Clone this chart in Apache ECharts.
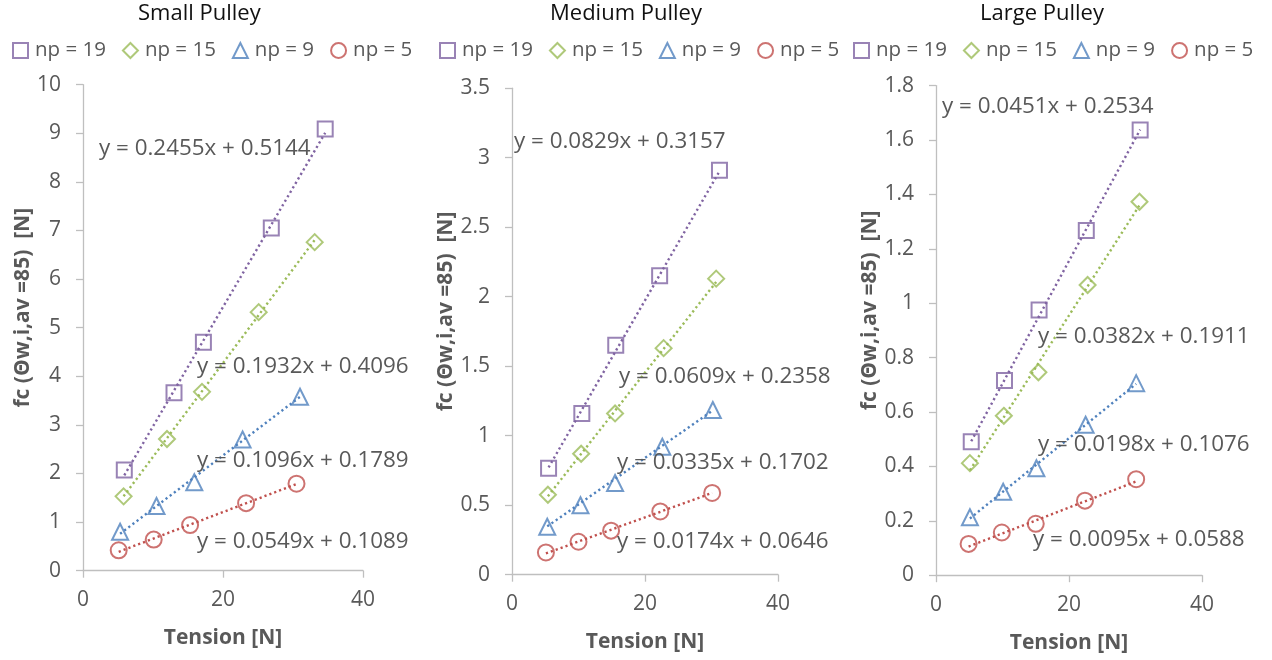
<!DOCTYPE html>
<html>
<head>
<meta charset="utf-8">
<script src="https://cdn.jsdelivr.net/npm/echarts@6/dist/echarts.min.js"></script>
<style>
html,body{margin:0;padding:0;background:#fff;}
#chart{width:1272px;height:660px;}
</style>
</head>
<body>
<div id="chart"></div>
<script>
// ---------- DATA ----------
const seriesNames = ['np = 19', 'np = 15', 'np = 9', 'np = 5'];
const panelTitles = ['Small Pulley', 'Medium Pulley', 'Large Pulley'];
const xTickLabels = ['0', '20', '40'];

// Small pulley: tension [N] and fc [N]
const smallNp19X = [5.9, 13.0, 17.2, 26.9, 34.6];
const smallNp19Y = [2.07, 3.66, 4.70, 7.05, 9.09];
const smallNp15X = [5.8, 12.0, 17.0, 25.1, 33.1];
const smallNp15Y = [1.53, 2.71, 3.68, 5.32, 6.76];
const smallNp9X  = [5.3, 10.5, 15.9, 22.8, 31.0];
const smallNp9Y  = [0.80, 1.33, 1.82, 2.70, 3.58];
const smallNp5X  = [5.1, 10.1, 15.3, 23.3, 30.5];
const smallNp5Y  = [0.42, 0.64, 0.94, 1.39, 1.79];

// Medium pulley
const mediumNp19X = [5.5, 10.5, 15.6, 22.2, 31.2];
const mediumNp19Y = [0.765, 1.16, 1.65, 2.15, 2.91];
const mediumNp15X = [5.4, 10.4, 15.5, 22.8, 30.7];
const mediumNp15Y = [0.575, 0.87, 1.16, 1.63, 2.13];
const mediumNp9X  = [5.3, 10.3, 15.5, 22.6, 30.2];
const mediumNp9Y  = [0.345, 0.50, 0.66, 0.92, 1.185];
const mediumNp5X  = [5.1, 10.0, 14.9, 22.3, 30.1];
const mediumNp5Y  = [0.16, 0.237, 0.317, 0.455, 0.588];

// Large pulley
const largeNp19X = [5.3, 10.3, 15.5, 22.6, 30.7];
const largeNp19Y = [0.491, 0.716, 0.975, 1.267, 1.637];
const largeNp15X = [5.1, 10.2, 15.4, 22.8, 30.6];
const largeNp15Y = [0.412, 0.586, 0.746, 1.067, 1.373];
const largeNp9X  = [5.1, 10.1, 15.1, 22.5, 30.1];
const largeNp9Y  = [0.213, 0.307, 0.393, 0.553, 0.706];
const largeNp5X  = [4.9, 9.9, 15.0, 22.4, 30.1];
const largeNp5Y  = [0.115, 0.157, 0.189, 0.274, 0.353];

// Linear trendline coefficients (order: np=19, 15, 9, 5)
const smallSlopes      = [0.2455, 0.1932, 0.1096, 0.0549];
const smallIntercepts  = [0.5144, 0.4096, 0.1789, 0.1089];
const mediumSlopes     = [0.0829, 0.0609, 0.0335, 0.0174];
const mediumIntercepts = [0.3157, 0.2358, 0.1702, 0.0646];
const largeSlopes      = [0.0451, 0.0382, 0.0198, 0.0095];
const largeIntercepts  = [0.2534, 0.1911, 0.1076, 0.0588];

// Y axis ranges per panel
const yMax = [10, 3.5, 1.8];
const yStep = [1, 0.5, 0.2];

// ---------- LAYOUT / STYLE ----------
const colors = ['#8064A2', '#9BBB59', '#4F81BD', '#C0504D'];
const symbols = ['rect', 'diamond', 'triangle', 'circle'];
const symbolSizes = [15, 16, 16, 16];
const grey = '#595959';
const axisGrey = '#bfbfbf';
const FONT = '"Open Sans", "Noto Sans", sans-serif';

const grids = [
  {left: 83, top: 84.7, width: 280, height: 486},
  {left: 512, top: 88.2, width: 266, height: 486.5},
  {left: 936, top: 85.6, width: 266, height: 489.6}
];
const titleLeft = [138, 550, 980];
const legendLeft = [12, 439, 853];
// equation label anchor points (left, vertical middle) in pixels
const eqPos = [
  [[99, 149], [197, 367], [197, 461], [197, 542]],
  [[514, 142], [619, 377], [617, 463], [617, 542]],
  [[942, 107], [1038, 337], [1038, 445], [1033, 540]]
];

const panels = [
  {xs: [smallNp19X, smallNp15X, smallNp9X, smallNp5X], ys: [smallNp19Y, smallNp15Y, smallNp9Y, smallNp5Y], m: smallSlopes, b: smallIntercepts},
  {xs: [mediumNp19X, mediumNp15X, mediumNp9X, mediumNp5X], ys: [mediumNp19Y, mediumNp15Y, mediumNp9Y, mediumNp5Y], m: mediumSlopes, b: mediumIntercepts},
  {xs: [largeNp19X, largeNp15X, largeNp9X, largeNp5X], ys: [largeNp19Y, largeNp15Y, largeNp9Y, largeNp5Y], m: largeSlopes, b: largeIntercepts}
];

const chart = echarts.init(document.getElementById('chart'), null, {renderer: 'canvas'});

const option = {
  backgroundColor: '#fff',
  animation: false,
  title: panelTitles.map((t, i) => ({
    text: t, left: titleLeft[i], top: 3, padding: 0,
    textStyle: {color: '#111', fontFamily: FONT, fontSize: 22, fontWeight: 'normal'}
  })),
  legend: legendLeft.map(l => ({
    data: seriesNames, left: l, top: 40, padding: 0,
    itemWidth: 15, itemHeight: 15, itemGap: 16,
    textStyle: {color: grey, fontFamily: FONT, fontSize: 20.5, padding: [0, 0, 0, 2]},
    selectedMode: false
  })),
  grid: grids,
  xAxis: grids.map((g, i) => ({
    type: 'value', gridIndex: i, min: 0, max: 40, interval: 20,
    name: 'Tension [N]', nameLocation: 'middle', nameGap: 57,
    nameTextStyle: {color: grey, fontFamily: FONT, fontSize: 21, fontWeight: 'bold'},
    axisLine: {show: true, lineStyle: {color: axisGrey, width: 1.3}},
    axisTick: {show: true, inside: false, length: 7, lineStyle: {color: axisGrey, width: 1.3}},
    axisLabel: {color: grey, fontFamily: FONT, fontSize: 21, margin: 19,
      formatter: v => xTickLabels[Math.round(v / 20)]},
    splitLine: {show: false}
  })),
  yAxis: grids.map((g, i) => ({
    type: 'value', gridIndex: i, min: 0, max: yMax[i], interval: yStep[i],
    name: 'fc (\u0398w,i,av =85)  [N]', nameLocation: 'middle', nameRotate: 90, nameGap: 45,
    nameTextStyle: {color: grey, fontFamily: FONT, fontSize: 21, fontWeight: 'bold', padding: [0, 0, 0, 40]},
    axisLine: {show: true, lineStyle: {color: axisGrey, width: 1.3}},
    axisTick: {show: true, inside: false, length: 7, lineStyle: {color: axisGrey, width: 1.3}},
    axisLabel: {color: grey, fontFamily: FONT, fontSize: 21, margin: 22},
    splitLine: {show: false}
  })),
  series: [],
  graphic: []
};

panels.forEach((p, pi) => {
  seriesNames.forEach((name, si) => {
    const xs = p.xs[si], ys = p.ys[si];
    const x0 = Math.min(...xs), x1 = Math.max(...xs);
    // trendline
    option.series.push({
      name: 'trend ' + name, type: 'line', xAxisIndex: pi, yAxisIndex: pi,
      data: [[x0, p.m[si] * x0 + p.b[si]], [x1, p.m[si] * x1 + p.b[si]]],
      symbol: 'none', silent: true, z: 3,
      lineStyle: {color: colors[si], width: 2.4, type: [2.2, 3]}
    });
    // points
    option.series.push({
      name: name, type: 'scatter', xAxisIndex: pi, yAxisIndex: pi,
      data: xs.map((x, k) => [x, ys[k]]),
      symbol: symbols[si], symbolSize: symbolSizes[si], z: 2,
      itemStyle: {color: 'rgba(255,255,255,0)', borderColor: colors[si], borderWidth: 2}
    });
    // equation label
    option.graphic.push({
      type: 'text', x: eqPos[pi][si][0], y: eqPos[pi][si][1], z: 100,
      style: {
        text: 'y = ' + p.m[si].toFixed(4) + 'x + ' + p.b[si].toFixed(4),
        fill: grey, font: '22.4px ' + FONT, verticalAlign: 'middle', align: 'left'
      }
    });
  });
});

chart.setOption(option);
</script>
</body>
</html>
